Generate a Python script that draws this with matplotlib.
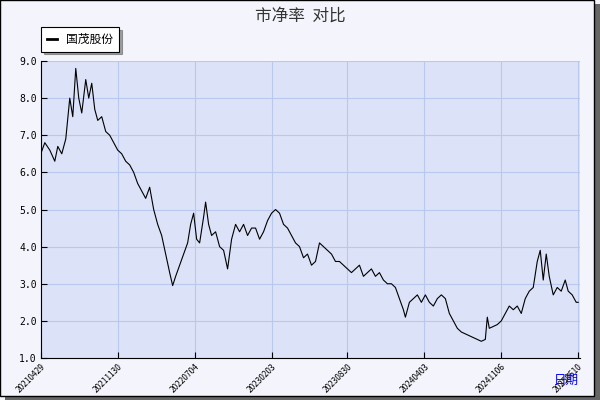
import matplotlib
matplotlib.use("Agg")
import matplotlib.pyplot as plt
from matplotlib.patches import Rectangle

plt.rcParams['font.family'] = ['Noto Sans CJK SC', 'DejaVu Sans']

# position along the time axis (0 = 20210429, 538 = 20250610), roughly
t = [0,4,9,14,17,21,25,29,32,35,38,41,45,48,51,54,57,61,65,69,73,77,81,85,89,93,97,101,105,109,113,117,121,125,129,132,135,139,143,147,150,153,156,159,163,165,168,171,175,179,183,187,191,195,199,203,207,211,215,219,223,227,231,235,239,243,247,251,255,259,263,267,271,275,279,283,287,291,295,299,303,307,311,315,319,323,327,331,335,339,343,347,351,355,359,363,365,369,373,377,381,385,389,393,397,401,405,409,413,417,421,425,429,433,437,441,445,447,449,453,457,461,465,469,473,477,481,485,489,493,497,500,503,506,509,513,517,521,525,528,532,536,538]
pb = [6.5,6.8,6.6,6.3,6.7,6.5,6.9,8.0,7.5,8.8,8.0,7.6,8.5,8.0,8.4,7.7,7.4,7.5,7.1,7.0,6.8,6.6,6.5,6.3,6.2,6.0,5.7,5.5,5.3,5.6,5.0,4.6,4.3,3.8,3.3,2.95,3.2,3.5,3.8,4.1,4.6,4.9,4.2,4.1,4.8,5.2,4.6,4.3,4.4,4.0,3.9,3.4,4.2,4.6,4.4,4.6,4.3,4.5,4.5,4.2,4.4,4.7,4.9,5.0,4.9,4.6,4.5,4.3,4.1,4.0,3.7,3.8,3.5,3.6,4.1,4.0,3.9,3.8,3.6,3.6,3.5,3.4,3.3,3.4,3.5,3.2,3.3,3.4,3.2,3.3,3.1,3.0,3.0,2.9,2.6,2.3,2.1,2.5,2.6,2.7,2.5,2.7,2.5,2.4,2.6,2.7,2.6,2.2,2.0,1.8,1.7,1.65,1.6,1.55,1.5,1.45,1.5,2.1,1.8,1.85,1.9,2.0,2.2,2.4,2.3,2.4,2.2,2.6,2.8,2.9,3.6,3.9,3.1,3.8,3.2,2.7,2.9,2.8,3.1,2.8,2.7,2.5,2.5]
tick_pos = [0,77,154,231,307,384,461,538]
tick_labels = ['20210429','20211130','20220704','20230203','20230830','20240403','20241106','20250610']
series_name = '国茂股份'

fig = plt.figure(figsize=(6,4), dpi=100, facecolor='#f4f4fc')
fig.patches.append(Rectangle((0.008,0), 0.992, 0.99, transform=fig.transFigure, facecolor='#666666', zorder=-2))
fig.patches.append(Rectangle((0,0.01), 0.99, 0.99, transform=fig.transFigure, facecolor='#f4f4fc', edgecolor='black', lw=1, zorder=-1))
ax = fig.add_axes([0.068, 0.105, 0.899, 0.7425])
ax.set_facecolor('#dce2f7')
ax.plot(t, pb, color='black', lw=0.8, label=series_name)
ax.set_xlim(0, 540)
ax.set_ylim(1.0, 9.0)
ax.set_yticks([1,2,3,4,5,6,7,8,9])
ax.set_yticklabels([f'{v:.1f}' for v in [1,2,3,4,5,6,7,8,9]], fontsize=7, family='DejaVu Sans Mono')
ax.set_xticks(tick_pos)
ax.set_xticklabels(tick_labels, rotation=45, fontsize=6, ha='right', rotation_mode='anchor')
ax.grid(color='#b8c8ee', lw=0.8)
for s in ['top','right']:
    ax.spines[s].set_visible(False)
ax.spines['left'].set_color('black')
ax.spines['bottom'].set_color('black')
ax.tick_params(length=4, direction='in', pad=3)
fig.text(0.5, 0.96, '市净率  对比', ha='center', va='center', fontsize=12, color='#333333')
fig.text(0.965, 0.05, '日期', ha='right', va='center', fontsize=9, color='blue')
leg = ax.legend(loc='upper left', bbox_to_anchor=(-0.01, 1.135), fontsize=8.5, frameon=True, fancybox=False, shadow=True, handlelength=0.8, edgecolor='black', borderpad=0.5)
leg.get_frame().set_linewidth(0.8)
for l in leg.get_lines():
    l.set_linewidth(2)
fig.savefig('out.png', dpi=100, facecolor=fig.get_facecolor())
